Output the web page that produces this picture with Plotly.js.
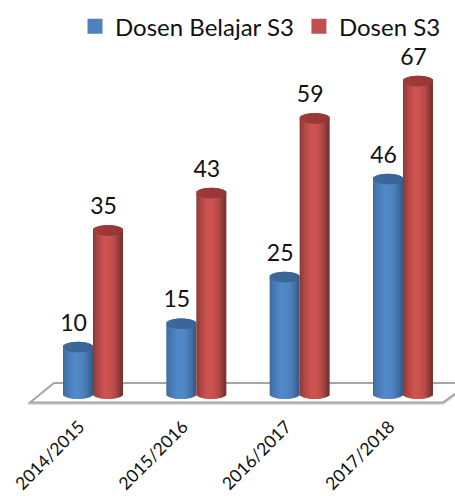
<!DOCTYPE html>
<html><head><meta charset="utf-8">
<script src="https://cdn.plot.ly/plotly-3.0.1.min.js"></script>
<style>html,body{margin:0;padding:0;background:#fff}#c{width:455px;height:496px}</style>
</head><body><div id="c"></div>
<script>
const categories = ["2014/2015","2015/2016","2016/2017","2017/2018"];
const belajar = [10,15,25,46];
const dosen = [35,43,59,67];
const belajarName = "Dosen Belajar S3";
const dosenName = "Dosen S3";

const W=455,H=496,plotBottom=412;
const pxPerX=103.33, x0px=93, y0px=393.7, pxPerY=4.667;
const xOf=p=>(p-x0px)/pxPerX, yOf=p=>(y0px-p)/pxPerY;
const hw=15/pxPerX, ry=5.2/pxPerY, N=30, stripW=2.2/pxPerX, inner=hw-1.1/pxPerX;
const FONT='Lato, "Open Sans", sans-serif';

function mix(a,b,t){return a.map((v,i)=>v+(b[i]-v)*t);}
function rgb(c){return `rgb(${c.map(Math.round).join(',')})`;}
function shade(dark,lit,end,t){ return t<0.4?mix(dark,lit,Math.pow(t/0.4,0.7)):mix(lit,end,Math.pow((t-0.4)/0.6,2.4)); }

function cylinder(values,offset,dark,lit,end,cap1,cap2){
  const b={x:[],y:[],base:[],width:[],color:[]}, c={x:[],y:[],base:[],width:[],color:[]};
  values.forEach((v,i)=>{
    for(let k=0;k<N;k++){
      const t=k/(N-1), u=2*t-1, uu=u*inner/hw, s=Math.sqrt(1-uu*uu), x=i+offset+u*inner;
      b.x.push(x); b.base.push(-ry*s); b.y.push(v+ry*s); b.width.push(stripW); b.color.push(rgb(shade(dark,lit,end,t)));
      c.x.push(x); c.base.push(v-ry*s); c.y.push(2*ry*s); c.width.push(stripW); c.color.push(rgb(mix(cap1,cap2,t)));
    }
  });
  const mk=d=>({type:'bar',x:d.x,y:d.y,base:d.base,width:d.width,marker:{color:d.color,opacity:1,line:{width:0}},opacity:1,showlegend:false,hoverinfo:'skip'});
  return [mk(b),mk(c)];
}
const blueT=cylinder(belajar,-hw,[62,108,160],[82,137,200],[56,96,140],[62,106,156],[58,100,148]);
const redT=cylinder(dosen,hw,[140,56,54],[206,84,81],[122,50,48],[160,60,58],[150,55,53]);

const idx=categories.map((_,i)=>i);
const labels=(vals,off)=>({type:'scatter',mode:'text',x:idx.map(i=>i+off-4.5/pxPerX),y:vals.map(v=>v+22/pxPerY),
  text:vals.map(String),textposition:'middle center',textfont:{family:FONT,size:23,color:'#111'},showlegend:false,hoverinfo:'skip',cliponaxis:false});
const legendItem=(name,color)=>({type:'scatter',mode:'markers',x:[null],y:[null],name,marker:{symbol:'square',size:15,color}});

const fl=[[30,402.5],[54,383],[470,383],[443,402.5]];
const floorPath=pts=>'M'+pts.map(p=>xOf(p[0])+','+yOf(p[1])).join(' L')+' Z';
const shapes=[
 {type:'path',layer:'below',xref:'x',yref:'y',path:floorPath(fl.map(p=>[p[0],p[1]+1.5])),line:{color:'#dcdcdc',width:2},fillcolor:'rgba(0,0,0,0)'},
 {type:'path',layer:'below',xref:'x',yref:'y',path:floorPath(fl),line:{color:'#a6a6a6',width:2},fillcolor:'#fff'}
];

Plotly.newPlot('c',[...blueT,...redT,labels(belajar,-hw),labels(dosen,hw),legendItem(belajarName,'#4f81bd'),legendItem(dosenName,'#c0504d')],{
  width:W,height:H,barmode:'overlay',paper_bgcolor:'#fff',plot_bgcolor:'#fff',
  margin:{l:0,r:0,t:0,b:H-plotBottom,pad:0},
  xaxis:{range:[xOf(0),xOf(W)],tickmode:'array',tickvals:idx.map(i=>i-0.13),ticktext:categories,tickangle:-45,ticks:'',ticklen:0,
    showgrid:false,zeroline:false,showline:false,automargin:false,tickfont:{family:FONT,size:17.5,color:'#111'}},
  yaxis:{range:[yOf(plotBottom),yOf(0)],visible:false,showgrid:false,zeroline:false},
  legend:{orientation:'h',x:75/W,xanchor:'left',y:1-5/H,yanchor:'top',font:{family:FONT,size:24,color:'#111'},bgcolor:'rgba(0,0,0,0)',itemclick:false,itemdoubleclick:false,tracegroupgap:0},
  shapes,showlegend:true,hovermode:false
},{displayModeBar:false,staticPlot:true});
</script></body></html>
